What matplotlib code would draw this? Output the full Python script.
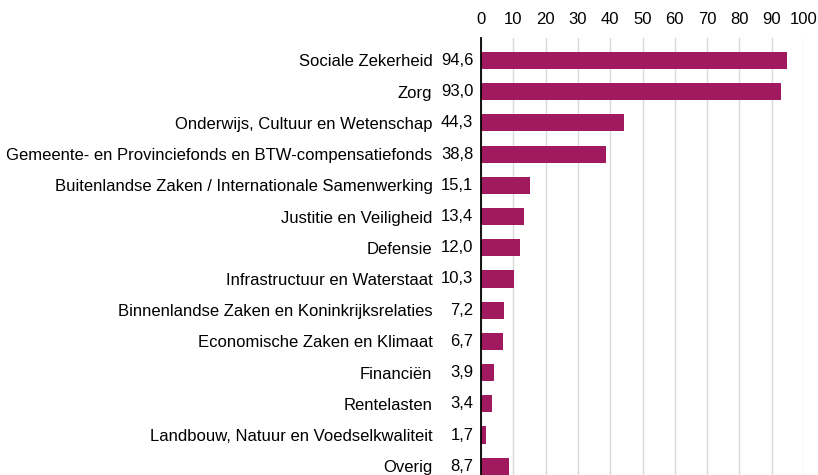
import matplotlib
matplotlib.use("Agg")
import matplotlib.pyplot as plt
import numpy as np

categories = [
    "Sociale Zekerheid",
    "Zorg",
    "Onderwijs, Cultuur en Wetenschap",
    "Gemeente- en Provinciefonds en BTW-compensatiefonds",
    "Buitenlandse Zaken / Internationale Samenwerking",
    "Justitie en Veiligheid",
    "Defensie",
    "Infrastructuur en Waterstaat",
    "Binnenlandse Zaken en Koninkrijksrelaties",
    "Economische Zaken en Klimaat",
    "Financiën",
    "Rentelasten",
    "Landbouw, Natuur en Voedselkwaliteit",
    "Overig",
]
values = [94.6, 93.0, 44.3, 38.8, 15.1, 13.4, 12.0, 10.3, 7.2, 6.7, 3.9, 3.4, 1.7, 8.7]
xticks = [0, 10, 20, 30, 40, 50, 60, 70, 80, 90, 100]

plt.rcParams['font.family'] = ['Liberation Sans', 'DejaVu Sans']

fig = plt.figure(figsize=(8.18, 4.75), dpi=100)
ax = fig.add_axes([481/818, 0, (804-481)/818, (475-38)/475])

color = '#A11A60'
y = np.arange(len(categories))
ax.barh(y, values, height=0.55, color=color, zorder=3)
ax.set_ylim(len(categories) - 0.72, -0.72)
ax.set_xlim(0, 100)
ax.set_xticks(xticks)
ax.xaxis.tick_top()
ax.tick_params(axis='x', length=0, labelsize=12, pad=8)
ax.grid(axis='x', color='#d9d9d9', linewidth=1, zorder=0)
for s in ['top', 'right', 'bottom']:
    ax.spines[s].set_visible(False)
ax.spines['left'].set_color('black')
ax.spines['left'].set_linewidth(1.3)
ax.spines['left'].set_zorder(4)

ax.set_yticks(y)
ax.set_yticklabels(categories, fontsize=12)
ax.tick_params(axis='y', length=0, pad=35)

for yi, v in zip(y, values):
    ax.annotate(f"{v:.1f}".replace('.', ','), xy=(0, yi), xycoords=('axes fraction', 'data'),
                xytext=(-5.5, 0), textcoords='offset points', ha='right', va='center', fontsize=12)

fig.savefig('out.png', dpi=100)
